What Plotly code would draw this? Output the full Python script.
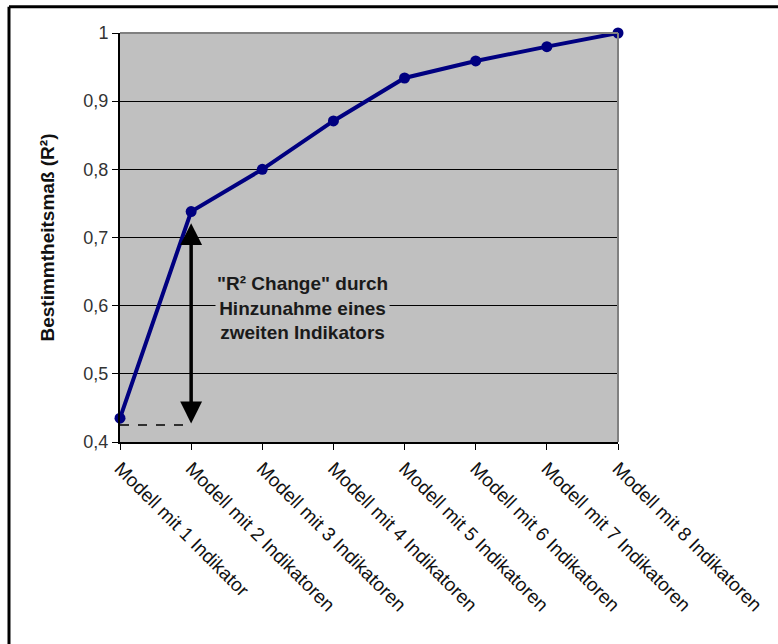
import plotly.graph_objects as go

# Model labels and coefficient of determination per model
modelle = [
    "Modell mit 1 Indikator",
    "Modell mit 2 Indikatoren",
    "Modell mit 3 Indikatoren",
    "Modell mit 4 Indikatoren",
    "Modell mit 5 Indikatoren",
    "Modell mit 6 Indikatoren",
    "Modell mit 7 Indikatoren",
    "Modell mit 8 Indikatoren",
]
r2_werte = [0.435, 0.738, 0.800, 0.871, 0.934, 0.959, 0.980, 1.000]

y_ticks = [0.4, 0.5, 0.6, 0.7, 0.8, 0.9, 1.0]

# Arrow span marking the R² change from model 1 to model 2
pfeil_unten = 0.425
pfeil_oben = 0.721

x_pos = list(range(len(modelle)))

fig = go.Figure()

fig.add_trace(go.Scatter(
    x=x_pos,
    y=r2_werte,
    mode="lines+markers",
    line=dict(color="#000080", width=4),
    marker=dict(color="#000080", size=11, symbol="circle"),
    cliponaxis=False,
    hoverinfo="skip",
    showlegend=False,
))

# dashed reference line from model 1 to the arrow
fig.add_shape(type="line", xref="x", yref="y",
              x0=x_pos[0], x1=x_pos[1], y0=pfeil_unten, y1=pfeil_unten,
              line=dict(color="black", width=1.5, dash="dash"))

# double-headed arrow
fig.add_annotation(x=x_pos[1], y=pfeil_oben, ax=x_pos[1], ay=pfeil_unten,
                   xref="x", yref="y", axref="x", ayref="y",
                   showarrow=True, arrowhead=2, arrowside="end+start",
                   arrowsize=1.25, arrowwidth=3.5, arrowcolor="black", text="")

fig.add_annotation(x=2.57, y=0.597, xref="x", yref="y",
                   text='"R² Change" durch<br>Hinzunahme eines<br>zweiten Indikators',
                   showarrow=False, align="center",
                   font=dict(family="Liberation Sans, Arial", size=19, color="#1a1a1a", weight="bold"),
                   bgcolor="#c0c0c0")

# grey frame on top and right of plot area
fig.add_shape(type="line", xref="paper", yref="paper", x0=0, x1=1, y0=1, y1=1,
              line=dict(color="#808080", width=2))
fig.add_shape(type="line", xref="paper", yref="paper", x0=1, x1=1, y0=0, y1=1,
              line=dict(color="#808080", width=2))

# outer chart border (left and top)
fig.add_shape(type="line", xref="paper", yref="paper",
              x0=-0.2229, x1=-0.2229, y0=-0.6, y1=1.064,
              line=dict(color="black", width=3))
fig.add_shape(type="line", xref="paper", yref="paper",
              x0=-0.2229, x1=1.4, y0=1.064, y1=1.064,
              line=dict(color="black", width=3))

fig.update_layout(
    width=778, height=644,
    margin=dict(l=120, r=160, t=33, b=202),
    paper_bgcolor="white",
    plot_bgcolor="#c0c0c0",
    separators=",.",
    font=dict(family="Liberation Sans, Arial", size=18, color="#333333"),
    xaxis=dict(
        range=[0, 7],
        tickmode="array", tickvals=x_pos, ticktext=modelle,
        tickangle=45,
        ticks="outside", ticklen=6, tickcolor="black", tickwidth=1,
        showline=True, linecolor="black", linewidth=2,
        showgrid=False, zeroline=False,
        tickfont=dict(size=19, color="#111111"),
    ),
    yaxis=dict(
        range=[0.4, 1.0],
        tickmode="array", tickvals=y_ticks,
        ticks="outside", ticklen=6, tickcolor="black", tickwidth=1,
        showline=True, linecolor="black", linewidth=2,
        showgrid=True, gridcolor="black", gridwidth=1,
        zeroline=False,
        tickfont=dict(size=18, color="#333333"),
        title=dict(text="Bestimmtheitsmaß (R²)", standoff=24,
                   font=dict(size=19, color="#111111", weight="bold")),
    ),
)

fig.write_html("out.html")
